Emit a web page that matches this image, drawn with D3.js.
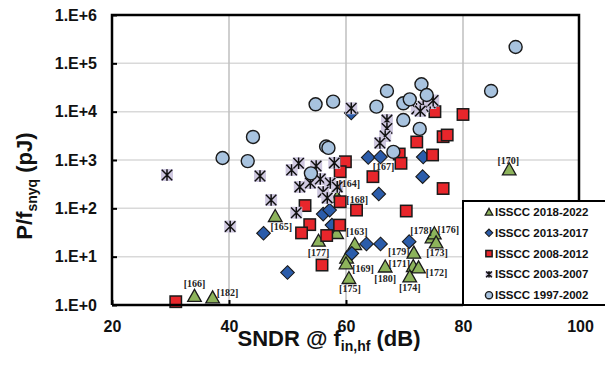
<!DOCTYPE html>
<html>
<head>
<meta charset="utf-8">
<script src="https://cdn.jsdelivr.net/npm/d3@7"></script>
<style>
  html, body { margin: 0; padding: 0; background: #fff; }
  svg { display: block; }
</style>
</head>
<body>
<svg id="chart" width="605" height="374"></svg>
<script>
// ---------------- DATA (SNDR dB, P/fsnyq pJ) ----------------
const xTicks = [20, 40, 60, 80, 100];
const yTicks = [1, 10, 100, 1000, 10000, 100000, 1000000];
const yTickLabels = ["1.E+0", "1.E+1", "1.E+2", "1.E+3", "1.E+4", "1.E+5", "1.E+6"];

const series2018 = [
  [34.1, 1.54, "[166]"], [37.2, 1.44, "[182]"], [47.9, 69.5, "[165]"], [55.3, 21.4, "[177]"],
  [58.4, 30.9, ""], [58.5, 172, "[164]"], [61.5, 18.3, "[163]"], [60.1, 9.6, ""],
  [60.0, 7.3, "[169]"], [60.5, 3.62, "[175]"], [66.7, 6.26, "[180]"], [71.6, 12.1, "[179]"],
  [71.5, 6.4, "[171]"], [72.4, 6.0, "[172]"], [70.9, 3.9, "[174]"], [74.7, 25.2, "[178]"],
  [75.1, 30.5, "[176]"], [75.4, 19.8, "[173]"], [87.9, 642, "[170]"]
];
const series2013 = [
  [45.9, 30.5], [50.0, 4.7], [56.1, 76], [57.2, 92], [57.6, 45], [61.0, 11.7], [63.5, 18.3],
  [65.9, 18.3], [70.8, 20.4], [65.6, 198], [73.1, 452], [73.2, 1154], [63.8, 1127],
  [65.9, 1154], [60.9, 9400]
];
const series2008 = [
  [30.9, 1.17], [53.0, 114], [53.8, 46], [52.4, 31], [56.7, 27.4], [55.9, 6.7], [58.9, 45],
  [59.0, 137], [59.9, 920], [59.0, 573], [61.8, 92], [64.6, 452], [69.1, 1330], [69.4, 855],
  [70.3, 88], [72.1, 2360], [74.8, 1270], [76.6, 3035], [77.3, 3290], [75.2, 10000],
  [80.0, 8750], [76.6, 257]
];
const series2003 = [
  [29.4, 490], [40.2, 42], [45.3, 467], [47.2, 149], [50.7, 620], [51.9, 855], [51.5, 81],
  [54.9, 750], [58.0, 870], [52.1, 277], [53.9, 334], [55.6, 405], [57.3, 334], [56.1, 218],
  [58.5, 277], [56.8, 164], [60.9, 11750], [67.0, 6700], [67.0, 4500], [66.7, 3140],
  [65.8, 2250], [72.1, 11400], [73.2, 12800], [74.4, 15100], [72.7, 10300], [74.9, 17000]
];
const series1997 = [
  [38.9, 1100], [44.1, 3000], [43.2, 950], [54.8, 14200], [57.8, 16100], [56.6, 1900],
  [57.0, 1780], [54.0, 530], [67.0, 26800], [65.2, 12700], [68.1, 1470], [69.8, 14900],
  [70.9, 18000], [72.9, 36900], [73.8, 22100], [69.8, 6700], [72.6, 4400], [89.0, 218000],
  [84.8, 26800]
];
// extra reference labels whose markers are hidden under other marks
const extraNotes = [["[167]", 65.9, 1154], ["[168]", 59.0, 137]];

const legendNames = ["ISSCC 2018-2022", "ISSCC 2013-2017", "ISSCC 2008-2012", "ISSCC 2003-2007", "ISSCC 1997-2002"];

// ---------------- LAYOUT / STYLE ----------------
const labelOffsets = {
  "[166]": [0, -12], "[182]": [15, -5], "[165]": [6, 11], "[177]": [0, 12], "[164]": [12, -13],
  "[163]": [2, -12], "[169]": [17, 5], "[175]": [1, 11], "[180]": [0, 12], "[179]": [-15, -1.5],
  "[171]": [-14, -2.5], "[172]": [18, 5], "[174]": [0, 11], "[178]": [-11, -7], "[176]": [14, -4],
  "[173]": [1, 10], "[170]": [-1, -9], "[167]": [3, 10], "[168]": [17, -2]
};
const L = 112, R = 579, T = 15, B = 305;
const legendBox = { x: 463, y: 201, w: 150, h: 104 };

const svg = d3.select("#chart");
const x = d3.scaleLinear().domain([20, 100]).range([112, 580]);
const y = d3.scaleLog().domain([1, 1e6]).range([305, 15]);

const C = {
  tri: "#8db35b", dia: "#2b5caa", sq: "#e8262b", star: "#cfc8e0", circ: "#a8c3df", stroke: "#1a1a1a"
};

// gridlines
const grid = svg.append("g");
grid.selectAll("line.h").data(yTicks.slice(1, -1)).join("line")
  .attr("x1", L).attr("x2", R).attr("y1", d => y(d)).attr("y2", d => y(d))
  .attr("stroke", "#d9d9d9").attr("stroke-width", 1.5);
grid.selectAll("line.v").data(xTicks.slice(1, -1)).join("line")
  .attr("x1", d => x(d)).attr("x2", d => x(d)).attr("y1", T).attr("y2", B)
  .attr("stroke", "#bfbfbf").attr("stroke-width", 1.5);

// markers
function drawMarker(g, type, s) {
  if (type === "tri") {
    const w = 6.8 * s, h = 6.5 * s;
    g.append("path").attr("d", `M0,${-h}L${w},${h * 0.85}L${-w},${h * 0.85}Z`)
      .attr("fill", C.tri).attr("stroke", C.stroke).attr("stroke-width", 1.3);
  } else if (type === "dia") {
    const r = 6.8 * s;
    g.append("path").attr("d", `M0,${-r}L${r},0L0,${r}L${-r},0Z`)
      .attr("fill", C.dia).attr("stroke", C.stroke).attr("stroke-width", 1.1);
  } else if (type === "sq") {
    const h = 5.7 * s;
    g.append("rect").attr("x", -h).attr("y", -h).attr("width", 2 * h).attr("height", 2 * h)
      .attr("fill", C.sq).attr("stroke", C.stroke).attr("stroke-width", 1.5);
  } else if (type === "star") {
    const h = 6 * s, a = 5.2 * s;
    g.append("rect").attr("x", -h).attr("y", -h).attr("width", 2 * h).attr("height", 2 * h)
      .attr("fill", C.star);
    g.append("path").attr("d", `M${-a},${-a}L${a},${a}M${a},${-a}L${-a},${a}M0,${-a * 1.12}L0,${a * 1.12}`)
      .attr("stroke", "#111").attr("stroke-width", 1.5).attr("fill", "none");
  } else if (type === "circ") {
    g.append("circle").attr("r", 6.5 * s)
      .attr("fill", C.circ).attr("stroke", C.stroke).attr("stroke-width", 1.4);
  }
}

const layers = [
  ["tri", series2018], ["dia", series2013], ["sq", series2008], ["star", series2003], ["circ", series1997]
];
const marks = svg.append("g");
layers.forEach(([type, data]) => {
  data.forEach(d => {
    const g = marks.append("g").attr("transform", `translate(${x(d[0])},${y(d[1])})`);
    drawMarker(g, type, 1);
  });
});

// annotation labels
const notes = series2018.filter(d => d[2]).map(d => [d[2], d[0], d[1]]).concat(extraNotes);
const ann = svg.append("g");
notes.forEach(([lab, dx, dv]) => {
  const off = labelOffsets[lab] || [0, -10];
  ann.append("text")
    .attr("x", x(dx) + off[0]).attr("y", y(dv) + off[1])
    .attr("text-anchor", "middle").attr("dominant-baseline", "central")
    .attr("font-family", "Liberation Serif, Times New Roman, serif")
    .attr("font-weight", "bold").attr("font-size", 10).attr("fill", "#222")
    .text(lab);
  if (lab === "[164]") {
    ann.append("line")
      .attr("x1", x(dx) + 4).attr("y1", y(dv) - 8).attr("x2", x(dx) + 0.5).attr("y2", y(dv) - 1)
      .attr("stroke", "#222").attr("stroke-width", 1);
  }
});

// axes labels
const yAxis = d3.axisLeft(y).tickValues(yTicks).tickSizeInner(-5).tickSizeOuter(0).tickPadding(15)
  .tickFormat((d, i) => yTickLabels[i]);
const gy = svg.append("g").attr("transform", `translate(${L},0)`).call(yAxis);
gy.select(".domain").remove();
gy.selectAll(".tick line").attr("stroke", "#000").attr("stroke-width", 2);
gy.selectAll(".tick text").attr("font-family", "Liberation Sans, Arial, sans-serif")
  .attr("font-weight", "bold").attr("font-size", 16).attr("fill", "#111").attr("x", -15);

const xAxis = d3.axisBottom(x).tickValues(xTicks).tickSizeInner(-5).tickSizeOuter(0).tickPadding(12);
const gx = svg.append("g").attr("transform", `translate(0,${B})`).call(xAxis);
gx.select(".domain").remove();
gx.selectAll(".tick line").attr("stroke", "#000").attr("stroke-width", 2);
gx.selectAll(".tick text").attr("font-family", "Liberation Sans, Arial, sans-serif")
  .attr("font-weight", "bold").attr("font-size", 16).attr("fill", "#111")
  .attr("y", 0).attr("dy", 0).attr("transform", "translate(0,27)");

// frame
svg.append("path")
  .attr("d", `M${L},${B}V${T}H${R}V${legendBox.y}M${L},${B}H${legendBox.x}`)
  .attr("fill", "none").attr("stroke", "#000").attr("stroke-width", 2.5);

// legend
const lg = svg.append("g");
lg.append("rect").attr("x", legendBox.x).attr("y", legendBox.y)
  .attr("width", legendBox.w).attr("height", legendBox.h)
  .attr("fill", "#fff").attr("stroke", "#000").attr("stroke-width", 2);
const legendTypes = ["tri", "dia", "sq", "star", "circ"];
legendNames.forEach((name, i) => {
  const cy = 212 + i * 20.8;
  const g = lg.append("g").attr("transform", `translate(489,${cy})`);
  drawMarker(g, legendTypes[i], 0.55);
  lg.append("text").attr("x", 495).attr("y", cy).attr("dominant-baseline", "central")
    .attr("font-family", "Liberation Sans, Arial, sans-serif").attr("font-weight", "bold")
    .attr("font-size", 11.5).attr("fill", "#111").text(name);
});

// axis titles
const xt = svg.append("text").attr("x", 329).attr("y", 346).attr("text-anchor", "middle")
  .attr("font-family", "Liberation Sans, Arial, sans-serif").attr("font-weight", "bold")
  .attr("font-size", 22).attr("fill", "#111");
xt.append("tspan").text("SNDR @ f");
xt.append("tspan").attr("dy", 5).attr("font-size", 14).text("in,hf");
xt.append("tspan").attr("dy", -5).text(" (dB)");

const yt = svg.append("text").attr("transform", "translate(32,186) rotate(-90)").attr("text-anchor", "middle")
  .attr("font-family", "Liberation Sans, Arial, sans-serif").attr("font-weight", "bold")
  .attr("font-size", 22).attr("fill", "#111");
yt.append("tspan").text("P/f");
yt.append("tspan").attr("dy", 5).attr("font-size", 14).text("snyq");
yt.append("tspan").attr("dy", -5).text(" (pJ)");
</script>
</body>
</html>
